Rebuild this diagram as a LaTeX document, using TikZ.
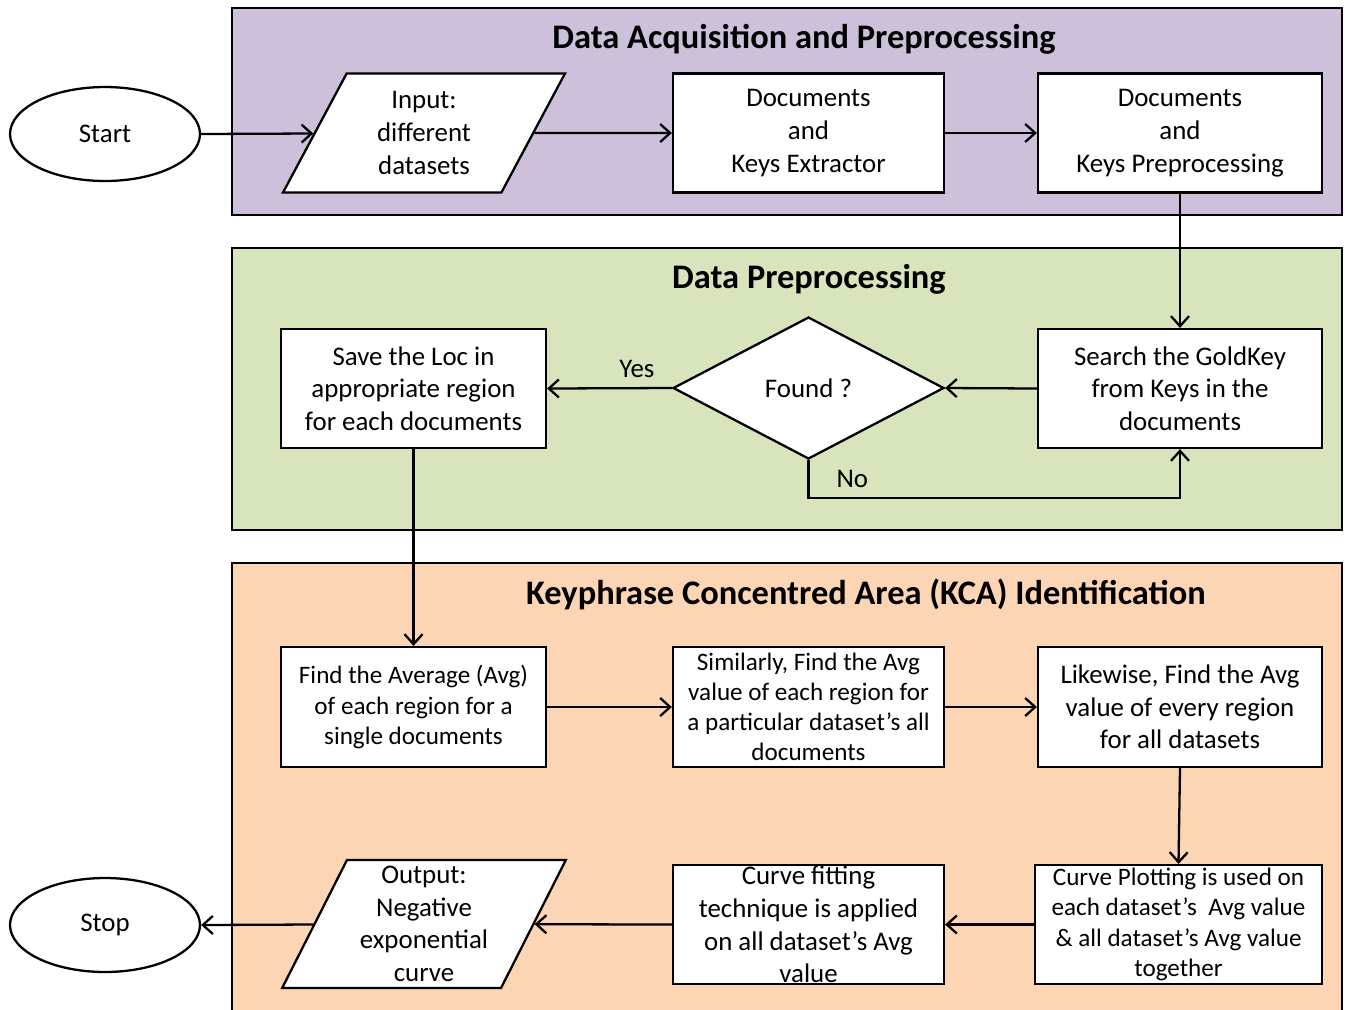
\documentclass[tikz,border=0pt]{standalone}
\usepackage{fontspec}
\setmainfont{Carlito}
\usetikzlibrary{shapes.geometric,arrows.meta,positioning}

\definecolor{acqfill}{RGB}{204,192,218}
\definecolor{prefill}{RGB}{216,228,188}
\definecolor{kcafill}{RGB}{252,213,180}

\begin{document}
\begin{tikzpicture}[
    x=0.02cm, y=-0.02cm,
    panel/.style={draw, line width=1.3pt},
    paneltitle/.style={font=\fontsize{19.6}{23}\selectfont\bfseries},
    stepbox/.style={rectangle, draw, fill=white, line width=1.3pt, align=center, inner sep=0pt, minimum height=2.38cm, font=\fontsize{15.3}{18.6}\selectfont},
    smallbox/.style={stepbox, font=\fontsize{14.3}{17.2}\selectfont},
    iobox/.style={trapezium, trapezium left angle=65, trapezium right angle=115, trapezium stretches=true, draw, fill=white, line width=1.3pt, align=center, inner sep=0pt, minimum width=5.68cm, minimum height=2.38cm, font=\fontsize{15.3}{18.6}\selectfont},
    termbox/.style={ellipse, draw, fill=white, line width=1.3pt, inner sep=0pt, minimum width=3.8cm, minimum height=1.88cm, font=\fontsize{15.3}{18.6}\selectfont},
    decision/.style={diamond, draw, fill=white, line width=1.3pt, inner sep=0pt, minimum width=5.42cm, minimum height=2.84cm, font=\fontsize{15.3}{18.6}\selectfont},
    arrow/.style={-{Straight Barb[length=2mm, width=3.6mm]}, line width=1.3pt},
    label/.style={font=\fontsize{15.3}{18.6}\selectfont}
]
\useasboundingbox (0,0) rectangle (1345,1009);

% Panels
\draw[panel, fill=acqfill] (232,8) rectangle (1342,215);
\draw[panel, fill=prefill] (232,248) rectangle (1342,530);
\draw[panel, fill=kcafill] (232,563) rectangle (1342,1040);

\node[paneltitle] (acqtitle) at (804,39) {Data Acquisition and Preprocessing};
\node[paneltitle] (pretitle) at (809,279) {Data Preprocessing};
\node[paneltitle] (kcatitle) at (866,594) {Keyphrase Concentred Area (KCA) Identification};

% Data Acquisition
\node[termbox] (start) at (105,134) {Start};
\node[iobox] (input) at (424,133) {Input:\\different\\datasets};
\node[stepbox, minimum width=5.42cm] (extract) at (808.5,133) {Documents\\and\\Keys Extractor};
\node[stepbox, minimum width=5.68cm] (prep) at (1180,133) {Documents\\and\\Keys Preprocessing};

% Data Preprocessing
\node[stepbox, minimum width=5.68cm] (search) at (1180,388.5) {Search the GoldKey\\from Keys in the\\documents};
\node[decision] (found) at (808.5,388) {Found ?};
\node[stepbox, minimum width=5.3cm] (save) at (413.5,388.5) {Save the Loc in\\appropriate region\\for each documents};

% KCA Identification
\node[smallbox, minimum width=5.3cm, minimum height=2.4cm] (avg) at (413.5,707) {Find the Average (Avg)\\of each region for a\\single documents};
\node[smallbox, minimum width=5.42cm, minimum height=2.4cm] (similar) at (808.5,707) {Similarly, Find the Avg\\value of each region for\\a particular dataset’s all\\documents};
\node[stepbox, minimum width=5.68cm, minimum height=2.4cm] (likewise) at (1180,707) {Likewise, Find the Avg\\value of every region\\for all datasets};
\node[smallbox, minimum width=5.74cm] (plot) at (1178.5,924.5) {Curve Plotting is used on\\each dataset’s\ \ Avg value\\\& all dataset’s Avg value\\together};
\node[stepbox, minimum width=5.42cm] (fit) at (808.5,924.5) {Curve fitting\\technique is applied\\on all dataset’s Avg\\value};
\node[iobox, minimum height=2.56cm] (output) at (424,924) {Output:\\Negative\\exponential\\curve};
\node[termbox] (stop) at (105,925) {Stop};

% Arrows
\draw[arrow] (start.east) -- (input);
\draw[arrow] (input) -- (extract.west);
\draw[arrow] (extract.east) -- (prep.west);
\draw[arrow] (prep.south) -- (search.north);
\draw[arrow] (search.west) -- (found.east);
\draw[arrow] (found.west) -- node[label, pos=0.28, above=2pt] {Yes} (save.east);
\draw[arrow] (found.south) -- ++(0,38) node[label, pos=0.5, right=12pt] {No} -| (search.south);
\draw[arrow] (save.south) -- (avg.north);
\draw[arrow] (avg.east) -- (similar.west);
\draw[arrow] (similar.east) -- (likewise.west);
\draw[arrow] (likewise.south) -- (plot.north);
\draw[arrow] (plot.west) -- (fit.east);
\draw[arrow] (fit.west) -- (output);
\draw[arrow] (output) -- (stop.east);

\end{tikzpicture}
\end{document}
